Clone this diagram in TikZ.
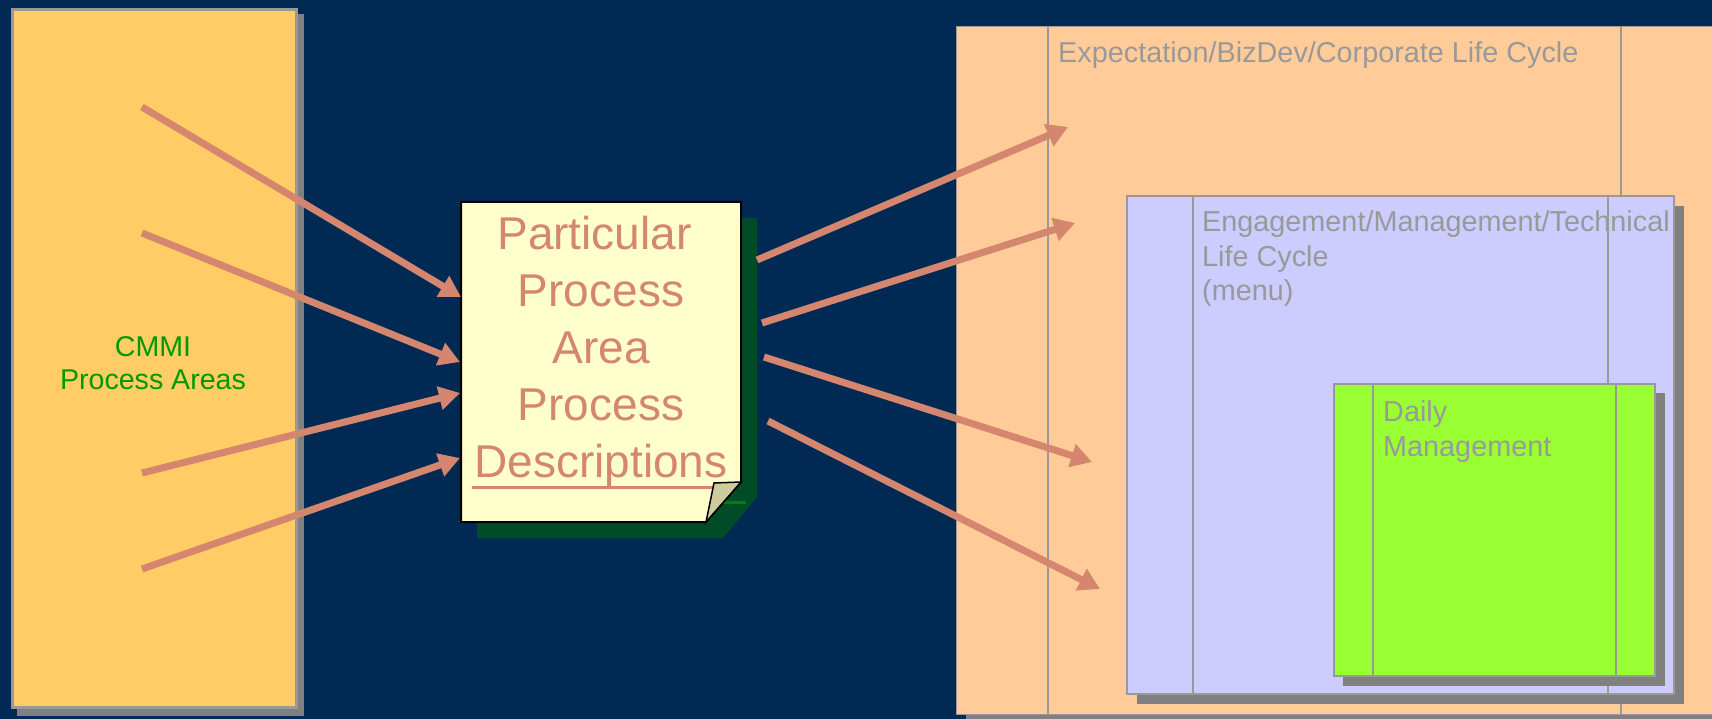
\documentclass[tikz,border=0pt]{standalone}
\usepackage{fontspec}
\setmainfont{Liberation Sans}
\usetikzlibrary{arrows.meta}
\definecolor{bg}{RGB}{0,42,84}
\definecolor{leftfill}{RGB}{255,204,102}
\definecolor{boxborder}{RGB}{153,153,153}
\definecolor{shadowgray}{RGB}{128,128,128}
\definecolor{notefill}{RGB}{255,255,204}
\definecolor{noteshadow}{RGB}{0,76,40}
\definecolor{foldfill}{RGB}{204,204,160}
\definecolor{arrowc}{RGB}{212,134,110}
\definecolor{peach}{RGB}{255,204,153}
\definecolor{lav}{RGB}{204,204,255}
\definecolor{lime}{RGB}{153,255,51}
\definecolor{txtgray}{RGB}{153,153,153}
\definecolor{cmmigreen}{RGB}{0,153,0}
\definecolor{linkgreen}{RGB}{0,128,0}
\begin{document}
\begin{tikzpicture}[x=1pt,y=-1pt,
  flow/.style={draw=arrowc, line width=7pt, -{Triangle[length=21pt,width=23pt]}},
  panel/.style={draw=boxborder, line width=1.5pt, anchor=north west, inner sep=0pt, outer sep=0pt},
  divider/.style={draw=boxborder, line width=1.3pt},
  lbl/.style={inner sep=0pt, font=\fontsize{28.8}{34.5}\selectfont, text=txtgray},
]
\useasboundingbox (0,0) rectangle (1712,719);
\clip (0,0) rectangle (1712,719);
\fill[bg] (0,0) rectangle (1712,719);

% ---------- left box ----------
\fill[shadowgray] (17,14) rectangle (304,716);
\node[panel, line width=3pt, fill=leftfill, minimum width=284pt, minimum height=698pt] (cmmibox) at (12.5,9.5) {};
\node[inner sep=0pt, anchor=base, text=cmmigreen, font=\fontsize{28.6}{33}\selectfont] (cmmi) at (153,356)
  {\vtop{\halign{\hfil#\hfil\cr CMMI\cr Process Areas\cr}}};

% ---------- note ----------
\fill[noteshadow] (477,218) -- (757,218) -- (757,497) -- (723,538) -- (477,538) -- cycle;
\begin{scope}
  \clip (706,522) -- (741,482) -- (757,482) -- (757,538) -- (706,538) -- cycle;
  \draw[linkgreen, line width=3pt] (488,502) -- (746,502);
\end{scope}
\filldraw[fill=notefill, draw=black, line width=2pt] (461,202) -- (741,202) -- (741,482) -- (706,522) -- (461,522) -- cycle;
\node[inner sep=0pt, anchor=base, text=arrowc, font=\fontsize{46}{57}\selectfont] (notetext) at (601,250)
  {\vtop{\halign{\hfil#\hfil\cr Particular\kern13pt\cr Process\cr Area\cr Process\cr Descriptions\cr}}};
\draw[arrowc, line width=3pt] (472,487) -- (730,487);
\filldraw[fill=foldfill, draw=black, line width=1.5pt] (714,483) -- (741,482) -- (706,522) -- cycle;

% ---------- right panels ----------
\fill[shadowgray] (966,36) rectangle (1740,730);
\node[panel, fill=peach, minimum width=790pt, minimum height=688pt] (corp) at (956.5,26.5) {};
\draw[divider] (1048,26.5) -- (1048,714);
\draw[divider] (1621,26.5) -- (1621,714);
\node[lbl, anchor=base west] (corptext) at (1058,62.7) {Expectation/BizDev/Corporate Life Cycle};

\fill[shadowgray] (1137,206) rectangle (1684,704);
\node[panel, fill=lav, minimum width=547pt, minimum height=498pt] (eng) at (1127,196) {};
\draw[divider] (1193,196) -- (1193,694);
\draw[divider] (1608,196) -- (1608,694);
\node[lbl, anchor=base west] (engtext) at (1202,232)
  {\vtop{\halign{#\hfil\cr Engagement/Management/Technical\cr Life Cycle\cr (menu)\cr}}};

\fill[shadowgray] (1343,393) rectangle (1665,686);
\node[panel, fill=lime, minimum width=321pt, minimum height=292pt] (daily) at (1334,384) {};
\draw[divider] (1373,384) -- (1373,676);
\draw[divider] (1616,384) -- (1616,676);
\node[lbl, anchor=base west] (dailytext) at (1383,421.7)
  {\vtop{\halign{#\hfil\cr Daily\cr Management\cr}}};

% ---------- arrow end points ----------
\coordinate (s1) at (142,107);
\coordinate (s2) at (142,233);
\coordinate (s3) at (142,473);
\coordinate (s4) at (142,569);
\coordinate (n1) at (461,297);
\coordinate (n2) at (460,362);
\coordinate (n3) at (460,393);
\coordinate (n4) at (460,458);
\coordinate (o1) at (757,260);
\coordinate (o2) at (762,323);
\coordinate (o3) at (764,357);
\coordinate (o4) at (768,421);
\coordinate (t1) at (1068,127);
\coordinate (t2) at (1075,223);
\coordinate (t3) at (1092,462);
\coordinate (t4) at (1100,589);

\draw[flow] (s1) -- (n1);
\draw[flow] (s2) -- (n2);
\draw[flow] (s3) -- (n3);
\draw[flow] (s4) -- (n4);
\draw[flow] (o1) -- (t1);
\draw[flow] (o2) -- (t2);
\draw[flow] (o3) -- (t3);
\draw[flow] (o4) -- (t4);
\end{tikzpicture}
\end{document}
